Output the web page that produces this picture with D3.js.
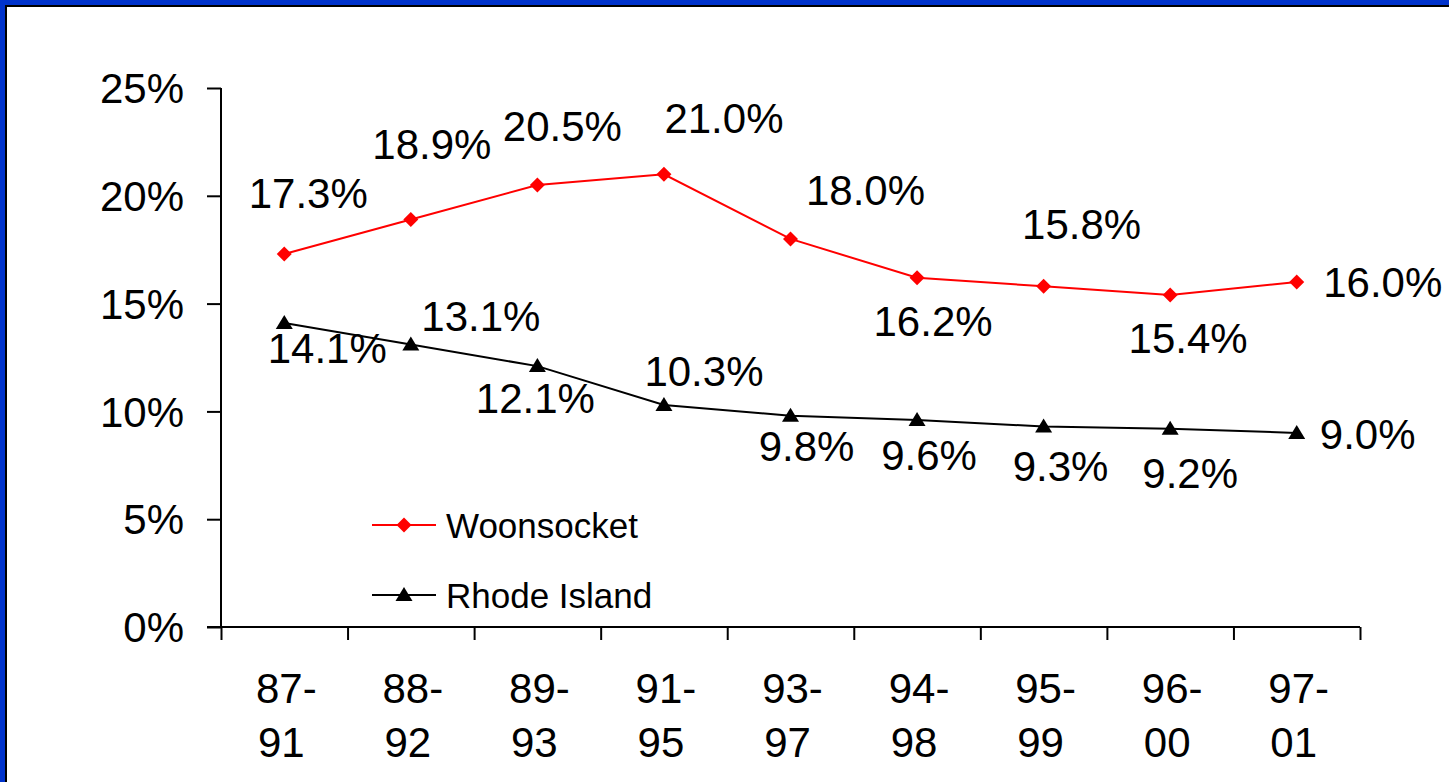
<!DOCTYPE html>
<html><head><meta charset="utf-8">
<script src="https://cdn.jsdelivr.net/npm/d3@7"></script>
<style>html,body{margin:0;padding:0;background:#fff;overflow:hidden}</style>
</head><body>
<script>
// ---- data ----
const categories = ["87-91","88-92","89-93","91-95","93-97","94-98","95-99","96-00","97-01"];
const woonsocket = [17.3,18.9,20.5,21.0,18.0,16.2,15.8,15.4,16.0];
const rhodeIsland = [14.1,13.1,12.1,10.3,9.8,9.6,9.3,9.2,9.0];
const yTicks = [0,5,10,15,20,25];
const seriesNames = ["Woonsocket","Rhode Island"];

// label placement (layout only): [dx, dy] from the point to text centre
const woonLabelOffsets = [[24,-61],[21,-76],[25,-59],[60,-56],[75,-49],[16,43],[38,-62],[18,43],[86,0]];
const riLabelOffsets = [[43,25],[70,-29],[-2,32],[40,-34],[16,30],[12,35],[17,39],[20,44],[71,1]];

const W = 1449, H = 782;
const svg = d3.select("body").append("svg").attr("width", W).attr("height", H);
svg.append("rect").attr("width", W).attr("height", H).attr("fill", "#0033cc");
svg.append("rect").attr("x", 5).attr("y", 5).attr("width", W).attr("height", H).attr("fill", "#000");
svg.append("rect").attr("x", 7).attr("y", 7).attr("width", W).attr("height", H).attr("fill", "#fff");

const font = "Liberation Sans, Arial, sans-serif";
const x = d3.scaleBand().domain(categories).range([221, 1360]).padding(0);
const cx = c => x(c) + x.bandwidth() / 2;
const y = d3.scaleLinear().domain([0, 25]).range([627, 88]);

// y axis
const yAxis = svg.append("g").attr("transform", "translate(221,0)")
  .call(d3.axisLeft(y).tickValues(yTicks).tickSize(14).tickPadding(23).tickFormat(d => d + "%"));
yAxis.select(".domain").attr("stroke", "#000").attr("stroke-width", 2).attr("d", "M0,88V627");
yAxis.selectAll(".tick line").attr("stroke", "#000").attr("stroke-width", 2);
yAxis.selectAll("text").attr("font-family", font).attr("font-size", 42).attr("fill", "#000").attr("dy", "0.35em");

// x axis with ticks on category boundaries
const xb = d3.scaleLinear().domain([0, categories.length]).range([221, 1360]);
const xAxis = svg.append("g").attr("transform", "translate(0,627)")
  .call(d3.axisBottom(xb).tickValues(d3.range(0, categories.length + 1)).tickSize(13).tickFormat(""));
xAxis.select(".domain").attr("stroke", "#000").attr("stroke-width", 2).attr("d", "M207,0H1360");
xAxis.selectAll(".tick line").attr("stroke", "#000").attr("stroke-width", 2);

const catLabels = svg.append("g").attr("font-family", font).attr("font-size", 42).attr("fill", "#000").attr("text-anchor", "middle");
categories.forEach(c => {
  const [a, b] = c.split("-");
  const t = catLabels.append("text").attr("x", cx(c) + 2);
  t.append("tspan").attr("x", cx(c) + 2).attr("y", 703).text(a + "-");
  t.append("tspan").attr("x", cx(c) - 3).attr("y", 757).text(b);
});

// lines
const line = d3.line().x((d, i) => cx(categories[i])).y(d => y(d));
svg.append("path").datum(rhodeIsland).attr("d", line).attr("fill", "none").attr("stroke", "#000").attr("stroke-width", 2);
svg.append("path").datum(woonsocket).attr("d", line).attr("fill", "none").attr("stroke", "#ff0000").attr("stroke-width", 2);

const diamondPath = "M0,-7.5L7.5,0L0,7.5L-7.5,0Z";
const triPath = "M0,-8L8.5,6L-8.5,6Z";

svg.append("g").selectAll("path").data(rhodeIsland).join("path")
  .attr("d", triPath).attr("fill", "#000")
  .attr("transform", (d, i) => `translate(${cx(categories[i])},${y(d)})`);
svg.append("g").selectAll("path").data(woonsocket).join("path")
  .attr("d", diamondPath).attr("fill", "#ff0000")
  .attr("transform", (d, i) => `translate(${cx(categories[i])},${y(d)})`);

// data labels
function labels(vals, offs) {
  svg.append("g").attr("font-family", font).attr("font-size", 42).attr("fill", "#000").attr("text-anchor", "middle")
    .selectAll("text").data(vals).join("text")
    .attr("x", (d, i) => cx(categories[i]) + offs[i][0])
    .attr("y", (d, i) => y(d) + offs[i][1])
    .attr("dy", "0.36em")
    .text(d => d.toFixed(1) + "%");
}
labels(woonsocket, woonLabelOffsets);
labels(rhodeIsland, riLabelOffsets);

// legend
const leg = svg.append("g").attr("font-family", font).attr("font-size", 35).attr("fill", "#000");
const legY = [525, 595];
const legColors = ["#ff0000", "#000"];
const legShapes = [diamondPath, triPath];
seriesNames.forEach((n, i) => {
  leg.append("line").attr("x1", 372).attr("x2", 436).attr("y1", legY[i]).attr("y2", legY[i])
    .attr("stroke", legColors[i]).attr("stroke-width", 2);
  leg.append("path").attr("d", legShapes[i]).attr("fill", legColors[i])
    .attr("transform", `translate(404,${legY[i]})`);
  leg.append("text").attr("x", 446).attr("y", legY[i]).attr("dy", "0.36em").text(n);
});
</script>
</body></html>
